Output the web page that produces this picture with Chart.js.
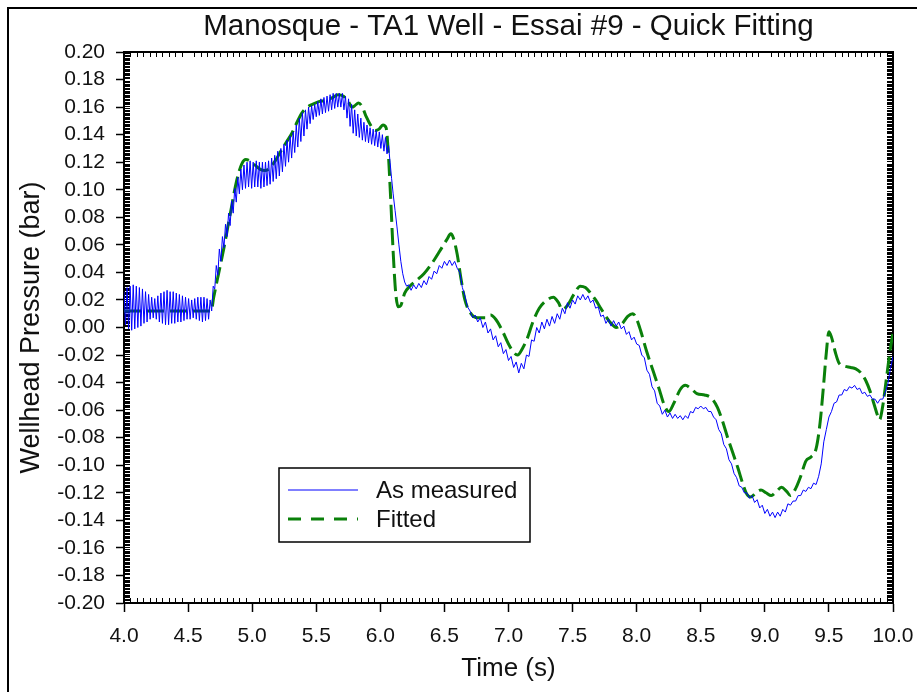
<!DOCTYPE html>
<html>
<head>
<meta charset="utf-8">
<title>Manosque - TA1 Well - Essai #9 - Quick Fitting</title>
<script src="https://cdn.jsdelivr.net/npm/chart.js@4.4.1/dist/chart.umd.min.js"></script>
<style>
  html, body { margin: 0; padding: 0; background: #fff; }
  canvas { display: block; }
</style>
</head>
<body>
<canvas id="chart" width="917" height="692"></canvas>
<script>
// Manosque TA1 well, test #9: measured wellhead pressure vs quick fit.

const FONT = '"Liberation Sans", Arial, sans-serif';
const INK  = '#111';

// ── Axes ────────────────────────────────────────────────────────────────────
const X_MIN = 4,    X_MAX = 10,  X_STEP = 0.5;
const Y_MIN = -0.2, Y_MAX = 0.2, Y_STEP = 0.02;

// ── Series: [time (s), pressure (bar)] ──────────────────────────────────────
const measuredPoints = [
  [4.000,0.026],[4.012,0.002],[4.024,0.029],[4.036,-0.001],[4.048,0.030],[4.060,-0.002],
  [4.072,0.031],[4.084,-0.001],[4.096,0.030],[4.108,0.000],[4.120,0.029],[4.132,0.001],
  [4.144,0.028],[4.156,0.003],[4.168,0.026],[4.180,0.004],[4.192,0.024],[4.204,0.006],
  [4.216,0.022],[4.228,0.007],[4.240,0.021],[4.252,0.006],[4.264,0.023],[4.276,0.004],
  [4.288,0.025],[4.300,0.003],[4.312,0.026],[4.324,0.002],[4.336,0.027],[4.348,0.002],
  [4.360,0.026],[4.372,0.003],[4.384,0.026],[4.396,0.003],[4.408,0.025],[4.420,0.004],
  [4.432,0.024],[4.444,0.004],[4.456,0.023],[4.468,0.005],[4.480,0.022],[4.492,0.006],
  [4.504,0.021],[4.516,0.006],[4.528,0.020],[4.540,0.007],[4.552,0.021],[4.564,0.006],
  [4.576,0.022],[4.588,0.005],[4.600,0.022],[4.612,0.004],[4.624,0.022],[4.636,0.005],
  [4.648,0.021],[4.660,0.006],[4.672,0.020],
  [4.684,0.012],[4.696,0.030],[4.708,0.028],[4.720,0.045],[4.732,0.038],[4.744,0.057],
  [4.756,0.048],[4.768,0.066],[4.780,0.058],[4.792,0.075],[4.804,0.066],[4.816,0.083],
  [4.828,0.074],[4.840,0.092],[4.852,0.083],[4.864,0.101],[4.876,0.091],[4.888,0.109],
  [4.900,0.097],
  [4.912,0.115],[4.924,0.100],[4.936,0.118],[4.948,0.101],[4.960,0.120],[4.972,0.102],
  [4.984,0.121],[4.996,0.101],[5.008,0.120],[5.020,0.102],[5.032,0.121],[5.044,0.102],
  [5.056,0.120],[5.068,0.101],[5.080,0.120],[5.092,0.102],[5.104,0.120],[5.116,0.103],
  [5.128,0.121],[5.140,0.104],[5.152,0.123],[5.164,0.106],[5.176,0.125],[5.188,0.108],
  [5.200,0.128],[5.212,0.110],[5.224,0.130],[5.236,0.113],[5.248,0.133],[5.260,0.117],
  [5.272,0.136],[5.284,0.120],[5.296,0.139],[5.308,0.123],[5.320,0.142],[5.332,0.127],
  [5.344,0.147],[5.356,0.131],[5.368,0.152],[5.380,0.135],[5.392,0.156],[5.404,0.139],
  [5.416,0.158],[5.428,0.144],[5.440,0.160],[5.452,0.148],[5.464,0.161],[5.476,0.151],
  [5.488,0.162],[5.500,0.153],[5.512,0.164],[5.524,0.154],[5.536,0.166],[5.548,0.155],
  [5.560,0.167],[5.572,0.156],[5.584,0.168],[5.596,0.157],[5.608,0.169],[5.620,0.158],
  [5.632,0.170],[5.644,0.159],[5.656,0.170],[5.668,0.160],[5.680,0.170],[5.692,0.160],
  [5.704,0.170],[5.716,0.158],[5.728,0.168],[5.740,0.152],[5.752,0.166],[5.764,0.146],
  [5.776,0.162],[5.788,0.141],[5.800,0.158],[5.812,0.139],[5.824,0.155],[5.836,0.138],
  [5.848,0.152],[5.860,0.136],[5.872,0.149],[5.884,0.135],[5.896,0.147],[5.908,0.134],
  [5.920,0.145],[5.932,0.133],[5.944,0.144],[5.956,0.132],[5.968,0.143],[5.980,0.131],
  [5.992,0.142],[6.004,0.130],[6.016,0.140],[6.028,0.128],[6.040,0.138],[6.052,0.126],
  [6.064,0.132],
  [6.076,0.120],[6.088,0.108],[6.100,0.097],[6.115,0.085],[6.130,0.073],[6.145,0.060],
  [6.160,0.048],[6.175,0.039],[6.190,0.033],[6.205,0.030],
  [6.22,0.031],[6.24,0.027],[6.26,0.031],[6.28,0.028],[6.30,0.032],[6.32,0.029],
  [6.34,0.034],[6.36,0.031],[6.38,0.037],[6.40,0.035],[6.42,0.041],[6.44,0.039],
  [6.46,0.045],[6.48,0.043],[6.50,0.048],[6.52,0.045],[6.54,0.049],[6.56,0.045],
  [6.58,0.048],[6.60,0.043],[6.62,0.040],[6.64,0.029],[6.66,0.023],[6.68,0.015],
  [6.70,0.012],[6.72,0.007],[6.74,0.009],[6.76,0.004],[6.78,0.007],[6.80,0.000],
  [6.82,0.004],[6.84,-0.004],[6.86,-0.001],[6.88,-0.009],[6.90,-0.006],[6.92,-0.014],
  [6.94,-0.011],[6.96,-0.019],[6.98,-0.016],[7.00,-0.024],[7.02,-0.021],[7.04,-0.029],
  [7.06,-0.025],[7.08,-0.033],[7.10,-0.026],[7.12,-0.030],[7.14,-0.020],[7.16,-0.021],
  [7.18,-0.009],[7.20,-0.010],[7.22,0.000],[7.24,-0.004],[7.26,0.004],[7.28,-0.001],
  [7.30,0.006],[7.32,0.001],[7.34,0.008],[7.36,0.003],[7.38,0.010],[7.40,0.006],
  [7.42,0.014],[7.44,0.010],[7.46,0.018],[7.48,0.014],[7.50,0.020],[7.52,0.017],
  [7.54,0.023],[7.56,0.020],[7.58,0.024],[7.60,0.020],[7.62,0.023],[7.64,0.018],
  [7.66,0.020],[7.68,0.014],[7.70,0.015],[7.72,0.008],[7.74,0.009],[7.76,0.003],
  [7.78,0.006],[7.80,0.001],[7.82,0.005],[7.84,0.001],[7.86,0.004],[7.88,-0.001],
  [7.90,0.001],[7.92,-0.005],[7.94,-0.003],[7.96,-0.009],[7.98,-0.007],[8.00,-0.012],
  [8.02,-0.013],[8.04,-0.020],[8.06,-0.022],[8.08,-0.031],[8.10,-0.034],[8.12,-0.043],
  [8.14,-0.046],[8.16,-0.055],[8.18,-0.057],[8.20,-0.063],[8.22,-0.060],[8.24,-0.065],
  [8.26,-0.062],[8.28,-0.066],[8.30,-0.063],[8.32,-0.066],[8.34,-0.064],[8.36,-0.067],
  [8.38,-0.064],[8.40,-0.066],[8.42,-0.061],[8.44,-0.062],[8.46,-0.058],[8.48,-0.059],
  [8.50,-0.057],[8.52,-0.059],[8.54,-0.058],[8.56,-0.061],[8.58,-0.061],[8.60,-0.065],
  [8.62,-0.067],[8.64,-0.074],[8.66,-0.077],[8.68,-0.085],[8.70,-0.088],[8.72,-0.096],
  [8.74,-0.099],[8.76,-0.106],[8.78,-0.109],[8.80,-0.115],[8.82,-0.116],[8.84,-0.120],
  [8.86,-0.120],[8.88,-0.124],[8.90,-0.122],[8.92,-0.127],[8.94,-0.125],[8.96,-0.131],
  [8.98,-0.129],[9.00,-0.135],[9.02,-0.132],[9.04,-0.137],[9.06,-0.134],[9.08,-0.138],
  [9.10,-0.134],[9.12,-0.137],[9.14,-0.132],[9.16,-0.134],[9.18,-0.128],[9.20,-0.129],
  [9.22,-0.126],[9.24,-0.126],[9.26,-0.122],[9.28,-0.122],[9.30,-0.118],[9.32,-0.119],
  [9.34,-0.116],[9.36,-0.117],[9.38,-0.113],[9.40,-0.114],[9.42,-0.108],[9.44,-0.099],
  [9.46,-0.083],[9.48,-0.074],[9.50,-0.065],[9.52,-0.061],[9.54,-0.055],[9.56,-0.054],
  [9.58,-0.049],[9.60,-0.049],[9.62,-0.045],[9.64,-0.046],[9.66,-0.043],[9.68,-0.044],
  [9.70,-0.042],[9.72,-0.045],[9.74,-0.044],[9.76,-0.048],[9.78,-0.047],[9.80,-0.050],
  [9.82,-0.049],[9.84,-0.052],[9.86,-0.052],[9.88,-0.055],[9.90,-0.052],[9.92,-0.052],
  [9.94,-0.047],[9.96,-0.041],[9.98,-0.030],[10.00,-0.021]
];

const fittedPoints = [
  [4.00,0.012],[4.68,0.012],[4.70,0.022],[4.74,0.040],[4.78,0.058],[4.83,0.083],
  [4.88,0.107],[4.92,0.119],[4.95,0.122],[4.98,0.121],[5.02,0.118],[5.06,0.115],
  [5.10,0.114],[5.14,0.116],[5.18,0.121],[5.23,0.129],[5.27,0.135],[5.31,0.141],
  [5.35,0.149],[5.39,0.156],[5.43,0.160],[5.47,0.162],[5.52,0.164],[5.58,0.165],
  [5.63,0.167],[5.67,0.169],[5.71,0.168],[5.75,0.164],[5.78,0.160],[5.80,0.161],
  [5.83,0.163],[5.86,0.160],[5.89,0.153],[5.93,0.146],[5.96,0.143],[5.99,0.144],
  [6.02,0.147],[6.045,0.145],[6.06,0.130],[6.08,0.095],[6.10,0.055],[6.12,0.025],
  [6.14,0.015],[6.16,0.016],[6.19,0.025],[6.23,0.030],[6.28,0.034],[6.34,0.039],
  [6.42,0.049],[6.48,0.058],[6.52,0.064],[6.55,0.068],[6.57,0.065],[6.60,0.053],
  [6.63,0.035],[6.66,0.020],[6.70,0.011],[6.76,0.007],[6.82,0.007],[6.86,0.009],
  [6.90,0.006],[6.95,-0.002],[7.00,-0.012],[7.04,-0.018],[7.07,-0.020],[7.11,-0.015],
  [7.15,-0.007],[7.19,0.004],[7.24,0.014],[7.30,0.020],[7.35,0.022],[7.39,0.018],
  [7.42,0.013],[7.46,0.016],[7.51,0.024],[7.56,0.030],[7.60,0.029],[7.64,0.025],
  [7.68,0.020],[7.72,0.014],[7.76,0.008],[7.80,0.003],[7.84,0.000],[7.88,0.002],
  [7.93,0.008],[7.97,0.010],[8.00,0.006],[8.03,-0.002],[8.08,-0.018],[8.13,-0.032],
  [8.18,-0.046],[8.21,-0.055],[8.25,-0.061],[8.29,-0.055],[8.34,-0.045],[8.38,-0.042],
  [8.42,-0.044],[8.47,-0.048],[8.53,-0.049],[8.58,-0.051],[8.63,-0.058],[8.67,-0.068],
  [8.71,-0.080],[8.75,-0.091],[8.79,-0.102],[8.83,-0.114],[8.86,-0.121],[8.89,-0.123],
  [8.93,-0.120],[8.97,-0.118],[9.01,-0.120],[9.05,-0.122],[9.09,-0.119],[9.13,-0.116],
  [9.17,-0.119],[9.20,-0.122],[9.24,-0.117],[9.28,-0.108],[9.32,-0.097],[9.36,-0.094],
  [9.40,-0.088],[9.43,-0.070],[9.46,-0.040],[9.48,-0.018],[9.50,-0.003],[9.52,-0.007],
  [9.55,-0.018],[9.58,-0.026],[9.62,-0.028],[9.67,-0.029],[9.71,-0.030],[9.75,-0.033],
  [9.79,-0.039],[9.82,-0.046],[9.85,-0.055],[9.88,-0.064],[9.895,-0.067],[9.92,-0.057],
  [9.95,-0.036],[9.98,-0.015],[10.00,-0.004]
];

const toXY = pts => pts.map(([x, y]) => ({ x, y }));

// ── Minor ticks (inward) + closed plot box ──────────────────────────────────
const plotFrame = {
  id: 'plotFrame',
  beforeDatasetsDraw(chart) {
    const { ctx, chartArea: a, scales: { x, y } } = chart;
    ctx.save();
    ctx.strokeStyle = '#000';
    ctx.lineWidth = 1;
    ctx.beginPath();
    // x: every 0.05 s, top and bottom edges
    for (let i = 1; i < 120; i++) {
      if (i % 10 === 0) continue;
      const px = Math.round(x.getPixelForValue(X_MIN + i * 0.05)) + 0.5;
      ctx.moveTo(px, a.bottom); ctx.lineTo(px, a.bottom - 5);
      ctx.moveTo(px, a.top);    ctx.lineTo(px, a.top + 5);
    }
    // y: every 0.001 bar, left and right edges
    for (let i = 1; i < 400; i++) {
      if (i % 20 === 0) continue;
      const py = Math.round(y.getPixelForValue(Y_MIN + i * 0.001)) + 0.5;
      ctx.moveTo(a.left, py);  ctx.lineTo(a.left + 6, py);
      ctx.moveTo(a.right, py); ctx.lineTo(a.right - 6, py);
    }
    ctx.stroke();
    ctx.lineWidth = 2;
    ctx.strokeRect(a.left, a.top, a.width, a.height);
    ctx.restore();
  },
  afterDraw(chart) {
    // outer picture frame (its right and bottom sides fall outside the crop)
    const { ctx } = chart;
    ctx.save();
    ctx.strokeStyle = '#000';
    ctx.lineWidth = 2;
    ctx.strokeRect(8, 8, 930, 700);
    ctx.restore();
  }
};

// ── Boxed legend inside the plot ───────────────────────────────────────────
const boxLegend = {
  id: 'boxLegend',
  afterDatasetsDraw(chart) {
    const { ctx } = chart;
    const left = 279, top = 468, width = 251, height = 74;
    ctx.save();
    ctx.fillStyle = '#fff';
    ctx.fillRect(left, top, width, height);
    ctx.strokeStyle = '#000';
    ctx.lineWidth = 1.5;
    ctx.strokeRect(left, top, width, height);
    ctx.font = `24px ${FONT}`;
    ctx.textBaseline = 'middle';
    chart.data.datasets.forEach((ds, i) => {
      const yy = top + 22 + i * 29;
      ctx.strokeStyle = ds.borderColor;
      ctx.lineWidth = ds.borderWidth;
      ctx.setLineDash(ds.legendDash || []);
      ctx.beginPath();
      ctx.moveTo(288, yy);
      ctx.lineTo(358, yy);
      ctx.stroke();
      ctx.setLineDash([]);
      ctx.fillStyle = INK;
      ctx.fillText(ds.label, 376, yy + 1);
    });
    ctx.restore();
  }
};

new Chart(document.getElementById('chart'), {
  type: 'line',
  data: {
    datasets: [
      {
        label: 'As measured',
        data: toXY(measuredPoints),
        borderColor: '#0000ff',
        borderWidth: 1,
        pointRadius: 0,
        tension: 0
      },
      {
        label: 'Fitted',
        data: toXY(fittedPoints),
        borderColor: '#0a800a',
        borderWidth: 3,
        borderDash: [17, 6],
        legendDash: [13, 10],
        pointRadius: 0,
        cubicInterpolationMode: 'monotone'
      }
    ]
  },
  options: {
    responsive: false,
    animation: false,
    parsing: false,
    layout: { padding: { top: 0, right: 24, bottom: 0, left: 0 } },
    plugins: {
      legend: { display: false },
      tooltip: { enabled: false },
      title: {
        display: true,
        fullSize: false,
        text: 'Manosque - TA1 Well - Essai #9 - Quick Fitting',
        color: INK,
        font: { family: FONT, size: 29.5, weight: 'normal', lineHeight: 1.2 },
        padding: { top: 9, bottom: 7.6 }
      }
    },
    scales: {
      x: {
        type: 'linear',
        min: X_MIN,
        max: X_MAX,
        ticks: {
          stepSize: X_STEP,
          maxTicksLimit: 100,
          autoSkip: false,
          maxRotation: 0,
          padding: 12,
          color: INK,
          font: { family: FONT, size: 21 },
          callback: v => v.toFixed(1)
        },
        grid: { drawOnChartArea: false, tickLength: 9, tickColor: '#000', tickWidth: 1.5 },
        border: { color: '#000', width: 2 },
        title: {
          display: true,
          text: 'Time (s)',
          color: INK,
          font: { family: FONT, size: 26 },
          padding: { top: 8, bottom: 8 }
        },
        afterFit: s => { s.height = 89; s.paddingLeft = 0; s.paddingRight = 0; }
      },
      y: {
        type: 'linear',
        min: Y_MIN,
        max: Y_MAX,
        ticks: {
          stepSize: Y_STEP,
          maxTicksLimit: 100,
          autoSkip: false,
          padding: 11,
          color: INK,
          font: { family: FONT, size: 21 },
          callback: v => (Math.abs(v) < 1e-9 ? 0 : v).toFixed(2)
        },
        grid: { drawOnChartArea: false, tickLength: 8, tickColor: '#000', tickWidth: 1.5 },
        border: { color: '#000', width: 2 },
        title: {
          display: true,
          text: 'Wellhead Pressure (bar)',
          color: INK,
          font: { family: FONT, size: 27 },
          padding: { top: 15, bottom: 15 }
        },
        afterFit: s => { s.width = 124; }
      }
    }
  },
  plugins: [plotFrame, boxLegend]
});
</script>
</body>
</html>
